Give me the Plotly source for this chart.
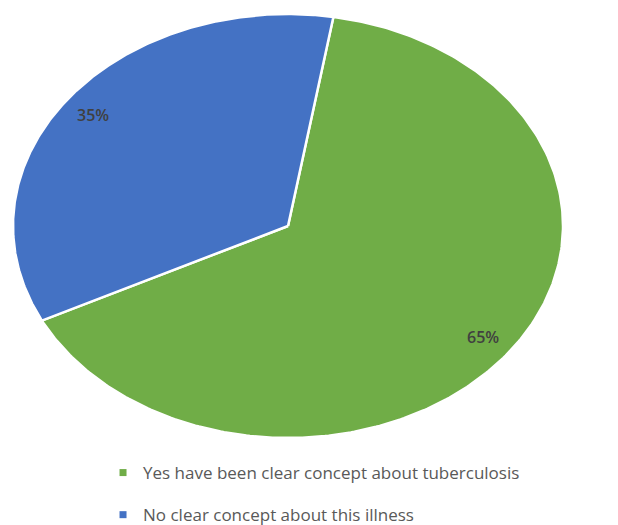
import numpy as np
import plotly.graph_objects as go

# ---- data ----
categories = ["Yes have been clear concept about tuberculosis",
              "No clear concept about this illness"]
values = [65, 35]
labels = ["65%", "35%"]
colors = ["#70AD47", "#4472C4"]

# ---- style ----
ROTATION = 9.5      # degrees clockwise from 12 o'clock where first slice starts
LABEL_R = 0.88      # relative radius for the percentage labels
W, H = 618, 525

fig = go.Figure()
total = float(sum(values))
start = ROTATION
annotations = []
for cat, v, lab, col in zip(categories, values, labels, colors):
    span = v / total * 360.0
    th = np.radians(np.linspace(start, start + span, 300))
    xs = np.concatenate([[0.0], np.sin(th), [0.0]])
    ys = np.concatenate([[0.0], np.cos(th), [0.0]])
    fig.add_trace(go.Scatter(
        x=xs, y=ys, mode="lines", fill="toself", fillcolor=col,
        line=dict(color="white", width=2.5), hoverinfo="skip",
        showlegend=False))
    mid = np.radians(start + span / 2.0)
    annotations.append(dict(
        x=LABEL_R * np.sin(mid), y=LABEL_R * np.cos(mid), xref="x", yref="y",
        text=lab, showarrow=False,
        font=dict(family="Open Sans", size=16, color="#404040", weight=600)))
    start += span

for cat, col in zip(categories, colors):
    fig.add_trace(go.Scatter(
        x=[None], y=[None], mode="markers", name=cat, legendgroup=cat,
        marker=dict(symbol="square", size=7, color=col)))

fig.update_layout(
    width=W, height=H,
    margin=dict(l=0, r=0, t=0, b=0, autoexpand=False),
    paper_bgcolor="white", plot_bgcolor="white",
    xaxis=dict(range=[-1.0473, 1.2], visible=False, fixedrange=True),
    yaxis=dict(range=[-1.4104, 1.066], visible=False, fixedrange=True),
    annotations=annotations,
    showlegend=True,
    legend=dict(x=0.1667, y=0.1333, xanchor="left", yanchor="top",
                traceorder="grouped", tracegroupgap=17,
                font=dict(family="Open Sans", size=17, color="#595959"),
                bgcolor="rgba(0,0,0,0)"),
)

fig.write_html("out.html")
